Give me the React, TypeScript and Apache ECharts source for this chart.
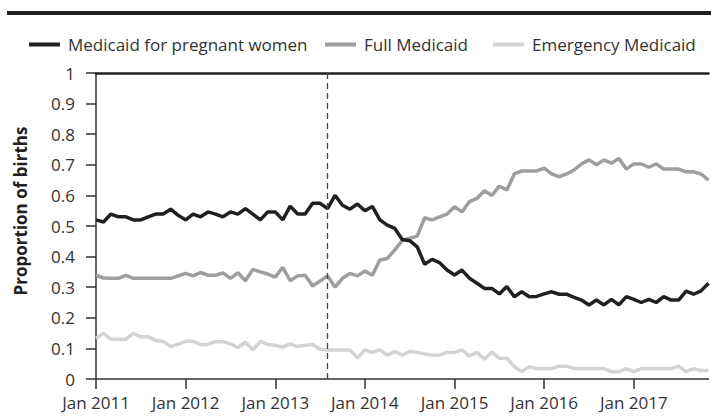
import React, { useEffect, useRef } from "react";
import * as echarts from "echarts";

const startYear = 2011;
const monthNames = ["Jan", "Feb", "Mar", "Apr", "May", "Jun", "Jul", "Aug", "Sep", "Oct", "Nov", "Dec"];

const pregnantWomen = [
  0.52, 0.513, 0.539, 0.53, 0.53, 0.52, 0.52, 0.53, 0.539, 0.539, 0.555, 0.535,
  0.52, 0.539, 0.53, 0.546, 0.539, 0.53, 0.546, 0.539, 0.557, 0.539, 0.52, 0.546,
  0.546, 0.52, 0.565, 0.539, 0.539, 0.574, 0.574, 0.557, 0.6, 0.568, 0.555, 0.572,
  0.55, 0.564, 0.52, 0.503, 0.492, 0.456, 0.452, 0.432, 0.375, 0.391, 0.38, 0.356,
  0.34, 0.356, 0.329, 0.313, 0.296, 0.296, 0.278, 0.302, 0.269, 0.285, 0.269, 0.27,
  0.278, 0.285, 0.277, 0.277, 0.267, 0.258, 0.242, 0.258, 0.242, 0.26, 0.242, 0.269,
  0.26, 0.25, 0.26, 0.25, 0.269, 0.258, 0.258, 0.287, 0.277, 0.288, 0.313,
];

const fullMedicaid = [
  0.339, 0.33, 0.329, 0.329, 0.339, 0.329, 0.329, 0.329, 0.329, 0.329, 0.329, 0.337,
  0.345, 0.337, 0.348, 0.339, 0.339, 0.347, 0.329, 0.347, 0.321, 0.358, 0.35, 0.343,
  0.333, 0.365, 0.321, 0.337, 0.339, 0.304, 0.32, 0.337, 0.3, 0.329, 0.345, 0.337,
  0.353, 0.339, 0.389, 0.394, 0.422, 0.452, 0.46, 0.467, 0.527, 0.52, 0.53, 0.539,
  0.563, 0.546, 0.58, 0.59, 0.615, 0.6, 0.63, 0.618, 0.67, 0.68, 0.68, 0.68,
  0.689, 0.67, 0.661, 0.67, 0.683, 0.703, 0.716, 0.7, 0.716, 0.705, 0.721, 0.686,
  0.703, 0.703, 0.692, 0.703, 0.686, 0.686, 0.686, 0.677, 0.677, 0.67, 0.65,
];

const emergencyMedicaid = [
  0.133, 0.149, 0.13, 0.13, 0.13, 0.149, 0.138, 0.138, 0.126, 0.123, 0.106, 0.114,
  0.123, 0.123, 0.113, 0.113, 0.122, 0.122, 0.115, 0.103, 0.12, 0.095, 0.123, 0.113,
  0.11, 0.104, 0.115, 0.106, 0.11, 0.113, 0.097, 0.095, 0.095, 0.095, 0.095, 0.068,
  0.095, 0.087, 0.095, 0.078, 0.09, 0.078, 0.09, 0.087, 0.082, 0.078, 0.078, 0.087,
  0.087, 0.095, 0.075, 0.087, 0.065, 0.088, 0.068, 0.068, 0.04, 0.024, 0.04, 0.034,
  0.034, 0.034, 0.042, 0.042, 0.034, 0.034, 0.034, 0.034, 0.034, 0.024, 0.024, 0.034,
  0.024, 0.034, 0.034, 0.034, 0.034, 0.034, 0.042, 0.024, 0.034, 0.028, 0.028,
];

const categories = pregnantWomen.map(
  (_, i) => `${monthNames[i % 12]} ${startYear + Math.floor(i / 12)}`
);

const policyMonth = "Aug 2013";
const yAxisTitle = "Proportion of births";
const seriesNames = ["Medicaid for pregnant women", "Full Medicaid", "Emergency Medicaid"];

const FONT = "'Open Sans', 'Noto Sans', sans-serif";
const TEXT = "#333333";
const BLACK = "#231f20";
const GRAY = "#9c9ea1";
const LIGHT = "#d1d3d4";

export default function App() {
  const ref = useRef<HTMLDivElement>(null);

  useEffect(() => {
    document.body.style.margin = "0";
    if (!ref.current) return;
    const chart = echarts.init(ref.current, null, { renderer: "svg" });

    const legendBase = {
      top: 31,
      itemWidth: 31,
      itemHeight: 4,
      icon: "rect",
      textStyle: { fontFamily: FONT, fontSize: 17, color: TEXT, padding: [0, 0, 0, 3] },
    };

    chart.setOption({
      animation: false,
      backgroundColor: "#ffffff",
      textStyle: { fontFamily: FONT },
      legend: [
        { ...legendBase, left: 24, data: [seriesNames[0]] },
        { ...legendBase, left: 320, data: [seriesNames[1]] },
        { ...legendBase, left: 488, data: [seriesNames[2]] },
      ],
      grid: { left: 96, right: 2.5, top: 73, bottom: 38, containLabel: false },
      xAxis: [
        {
          type: "category",
          data: categories,
          boundaryGap: false,
          axisLine: { lineStyle: { color: TEXT, width: 1.5 } },
          axisTick: { interval: 11, length: 10, lineStyle: { color: TEXT, width: 1.5 } },
          axisLabel: {
            interval: 11,
            margin: 15,
            fontFamily: FONT,
            fontSize: 17,
            color: TEXT,
          },
          splitLine: { show: false },
        },
        {
          type: "category",
          data: categories,
          boundaryGap: false,
          position: "top",
          axisLine: { lineStyle: { color: BLACK, width: 2.5 } },
          axisTick: { show: false },
          axisLabel: { show: false },
          splitLine: { show: false },
        },
      ],
      yAxis: {
        type: "value",
        min: 0,
        max: 1,
        interval: 0.1,
        axisLine: { show: true, lineStyle: { color: TEXT, width: 1.5 } },
        axisTick: { show: true, length: 10, lineStyle: { color: TEXT, width: 1.5 } },
        axisLabel: { margin: 21, fontFamily: FONT, fontSize: 17, color: TEXT },
        splitLine: { show: false },
      },
      graphic: [
        { type: "rect", shape: { x: 7, y: 11, width: 704, height: 4 }, style: { fill: BLACK } },
        {
          type: "text",
          x: 20,
          y: 211,
          rotation: Math.PI / 2,
          style: {
            text: yAxisTitle,
            font: `bold 17px ${FONT}`,
            fill: BLACK,
            align: "center",
            verticalAlign: "middle",
          },
        },
      ],
      series: [
        {
          name: seriesNames[2],
          type: "line",
          data: emergencyMedicaid,
          symbol: "none",
          lineStyle: { color: LIGHT, width: 3.5 },
          itemStyle: { color: LIGHT },
        },
        {
          name: seriesNames[1],
          type: "line",
          data: fullMedicaid,
          symbol: "none",
          lineStyle: { color: GRAY, width: 3.5 },
          itemStyle: { color: GRAY },
        },
        {
          name: seriesNames[0],
          type: "line",
          data: pregnantWomen,
          symbol: "none",
          lineStyle: { color: BLACK, width: 3.5 },
          itemStyle: { color: BLACK },
          markLine: {
            silent: true,
            symbol: "none",
            label: { show: false },
            lineStyle: { color: "#444444", width: 1.3, type: [6, 4] },
            data: [{ xAxis: policyMonth }],
          },
        },
      ],
    });

    return () => chart.dispose();
  }, []);

  return <div ref={ref} style={{ width: 711, height: 417 }} />;
}
